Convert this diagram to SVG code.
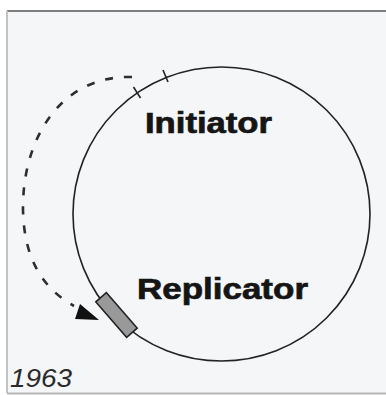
<svg xmlns="http://www.w3.org/2000/svg" width="386" height="395" viewBox="0 0 386 395">
  <style>
    .lbl { font-family: "Liberation Sans", Arial, sans-serif; font-weight: bold; font-size: 29px; fill: #151515; stroke: #151515; stroke-width: 0.7; }
    .year { font-family: "Liberation Sans", Arial, sans-serif; font-style: italic; font-size: 26px; fill: #2a2a2a; }
    .ring { fill: none; stroke: #222; stroke-width: 1.6; }
    .tick { stroke: #222; stroke-width: 1.6; }
    .dash { fill: none; stroke: #2e2e2e; stroke-width: 2.6; stroke-dasharray: 8 11; }
  </style>
  <rect x="0" y="0" width="386" height="395" fill="#ffffff"/>
  <rect x="7" y="11" width="379" height="382" fill="#f4f6f8"/>
  <line x1="7" y1="11" x2="386" y2="11" stroke="#7d7d7d" stroke-width="2"/>
  <line x1="7" y1="11" x2="7" y2="393" stroke="#c2c2c2" stroke-width="2"/>
  <line x1="7" y1="393.5" x2="386" y2="393.5" stroke="#b5b5b5" stroke-width="2"/>

  <g id="chromosome">
    <ellipse class="ring" cx="221.5" cy="214" rx="148.5" ry="147"/>
    <line class="tick" x1="133.5" y1="87" x2="140.5" y2="98"/>
    <line class="tick" x1="163" y1="70" x2="168" y2="82"/>
  </g>

  <g id="connectors">
    <path class="dash" d="M 132 77 C 60 75, 22 140, 23 210 C 24 258, 42 288, 74 306"/>
    <polygon points="99,320 80,304 75,319" fill="#111"/>
  </g>

  <g id="replicator-box">
    <rect x="-23.5" y="-7" width="47" height="14" transform="translate(116.5,315) rotate(49)" fill="#999" stroke="#222" stroke-width="1.6"/>
  </g>

  <g id="initiator">
    <text class="lbl" x="145" y="133" textLength="127" lengthAdjust="spacingAndGlyphs">Initiator</text>
  </g>
  <g id="replicator">
    <text class="lbl" x="137" y="299" textLength="171" lengthAdjust="spacingAndGlyphs">Replicator</text>
  </g>
  <g id="year">
    <text class="year" x="10" y="387" textLength="62" lengthAdjust="spacingAndGlyphs">1963</text>
  </g>
</svg>
